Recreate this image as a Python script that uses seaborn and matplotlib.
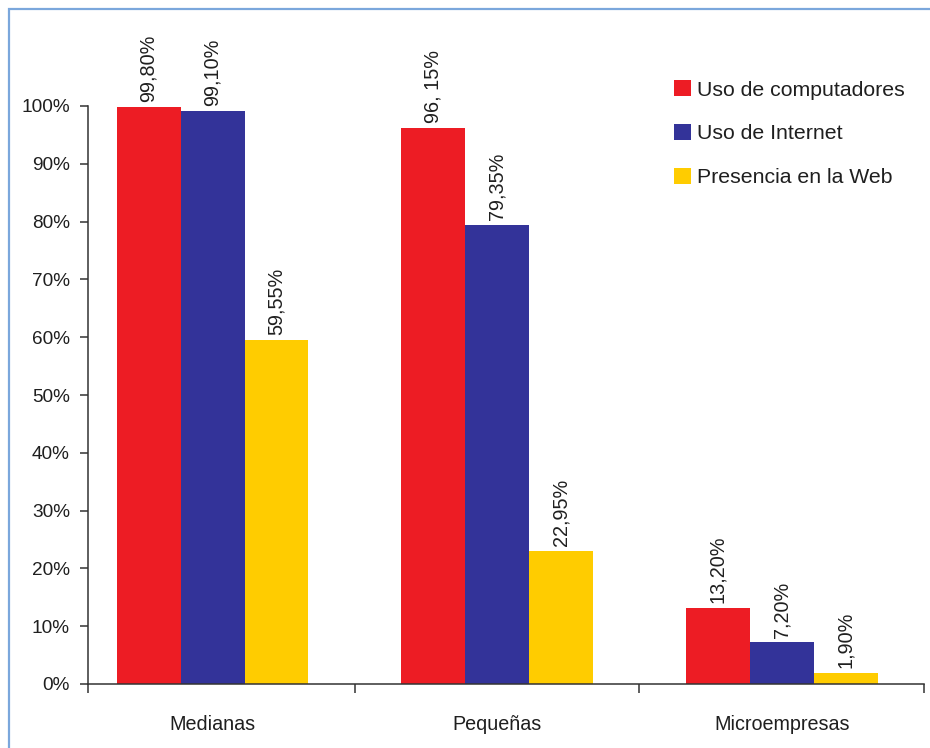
import matplotlib
matplotlib.use("Agg")
import matplotlib.pyplot as plt
from matplotlib.patches import Rectangle
from matplotlib.ticker import FixedLocator, PercentFormatter
import seaborn as sns
import pandas as pd

empresas = ["Medianas", "Pequeñas", "Microempresas"]
series = ["Uso de computadores", "Uso de Internet", "Presencia en la Web"]
uso_computadores = [99.80, 96.15, 13.20]
uso_internet = [99.10, 79.35, 7.20]
presencia_web = [59.55, 22.95, 1.90]
etiq_computadores = ["99,80%", "96, 15%", "13,20%"]
etiq_internet = ["99,10%", "79,35%", "7,20%"]
etiq_web = ["59,55%", "22,95%", "1,90%"]
colores = ["#ED1C24", "#333399", "#FFCC00"]

C_TEXTO = "#1f1f1f"
C_EJE = "#333333"

sns.set_theme(style="white")
plt.rcParams["font.family"] = ["Liberation Sans", "DejaVu Sans"]
plt.rcParams["text.color"] = C_TEXTO
plt.rcParams["xtick.color"] = C_EJE
plt.rcParams["ytick.color"] = C_EJE
plt.rcParams["xtick.labelcolor"] = C_TEXTO
plt.rcParams["ytick.labelcolor"] = C_TEXTO

valores = [uso_computadores, uso_internet, presencia_web]
etiquetas = [etiq_computadores, etiq_internet, etiq_web]
filas = []
for s, vals in zip(series, valores):
    for e, v in zip(empresas, vals):
        filas.append({"empresa": e, "serie": s, "valor": v})
df = pd.DataFrame(filas)

fig = plt.figure(figsize=(9.3, 7.48), dpi=100)
ax = fig.add_axes([88 / 930, 1 - 684 / 748, (924 - 88) / 930, (684 - 106) / 748])

sns.barplot(data=df, x="empresa", y="valor", hue="serie", order=empresas,
            hue_order=series, palette=colores, width=0.674, gap=0,
            saturation=1, errorbar=None, linewidth=0, ax=ax)

for cont, etq in zip(ax.containers, etiquetas):
    ax.bar_label(cont, labels=etq, rotation=90, padding=3.5,
                 fontsize=14.3, color=C_TEXTO)

ax.set_ylim(0, 100)
ax.set_xlim(-0.4376, 2.5)
ax.yaxis.set_major_locator(FixedLocator(range(0, 101, 10)))
ax.yaxis.set_major_formatter(PercentFormatter(decimals=0))
ax.xaxis.set_minor_locator(FixedLocator([-0.4376, 0.5, 1.5, 2.5]))
ax.tick_params(axis="y", which="major", left=True, direction="out",
               length=6, width=1.1, labelsize=13.7, pad=7)
ax.tick_params(axis="x", which="major", bottom=True, length=0,
               labelsize=14.2, pad=22)
ax.tick_params(axis="x", which="minor", bottom=True, direction="out",
               length=6.5, width=1.1)
ax.set_xlabel("")
ax.set_ylabel("")
for lado in ["top", "right"]:
    ax.spines[lado].set_visible(False)
for lado in ["left", "bottom"]:
    ax.spines[lado].set_color(C_EJE)
    ax.spines[lado].set_linewidth(1.1)

handles, labels = ax.get_legend_handles_labels()
ax.legend(handles, labels, loc="upper left",
          bbox_to_anchor=(674 / 930, 1 - 80 / 748),
          bbox_transform=fig.transFigure, frameon=False, fontsize=15.3,
          handlelength=0.8, handleheight=0.8, handletextpad=0.3,
          labelspacing=1.15, borderpad=0, borderaxespad=0)

fig.add_artist(Rectangle((8.5 / 930, -0.2), 1.2, 1.2 - 9 / 748,
                         transform=fig.transFigure, fill=False,
                         edgecolor="#7ba7dc", linewidth=1.6, clip_on=False))

fig.savefig("out.png", dpi=100)
